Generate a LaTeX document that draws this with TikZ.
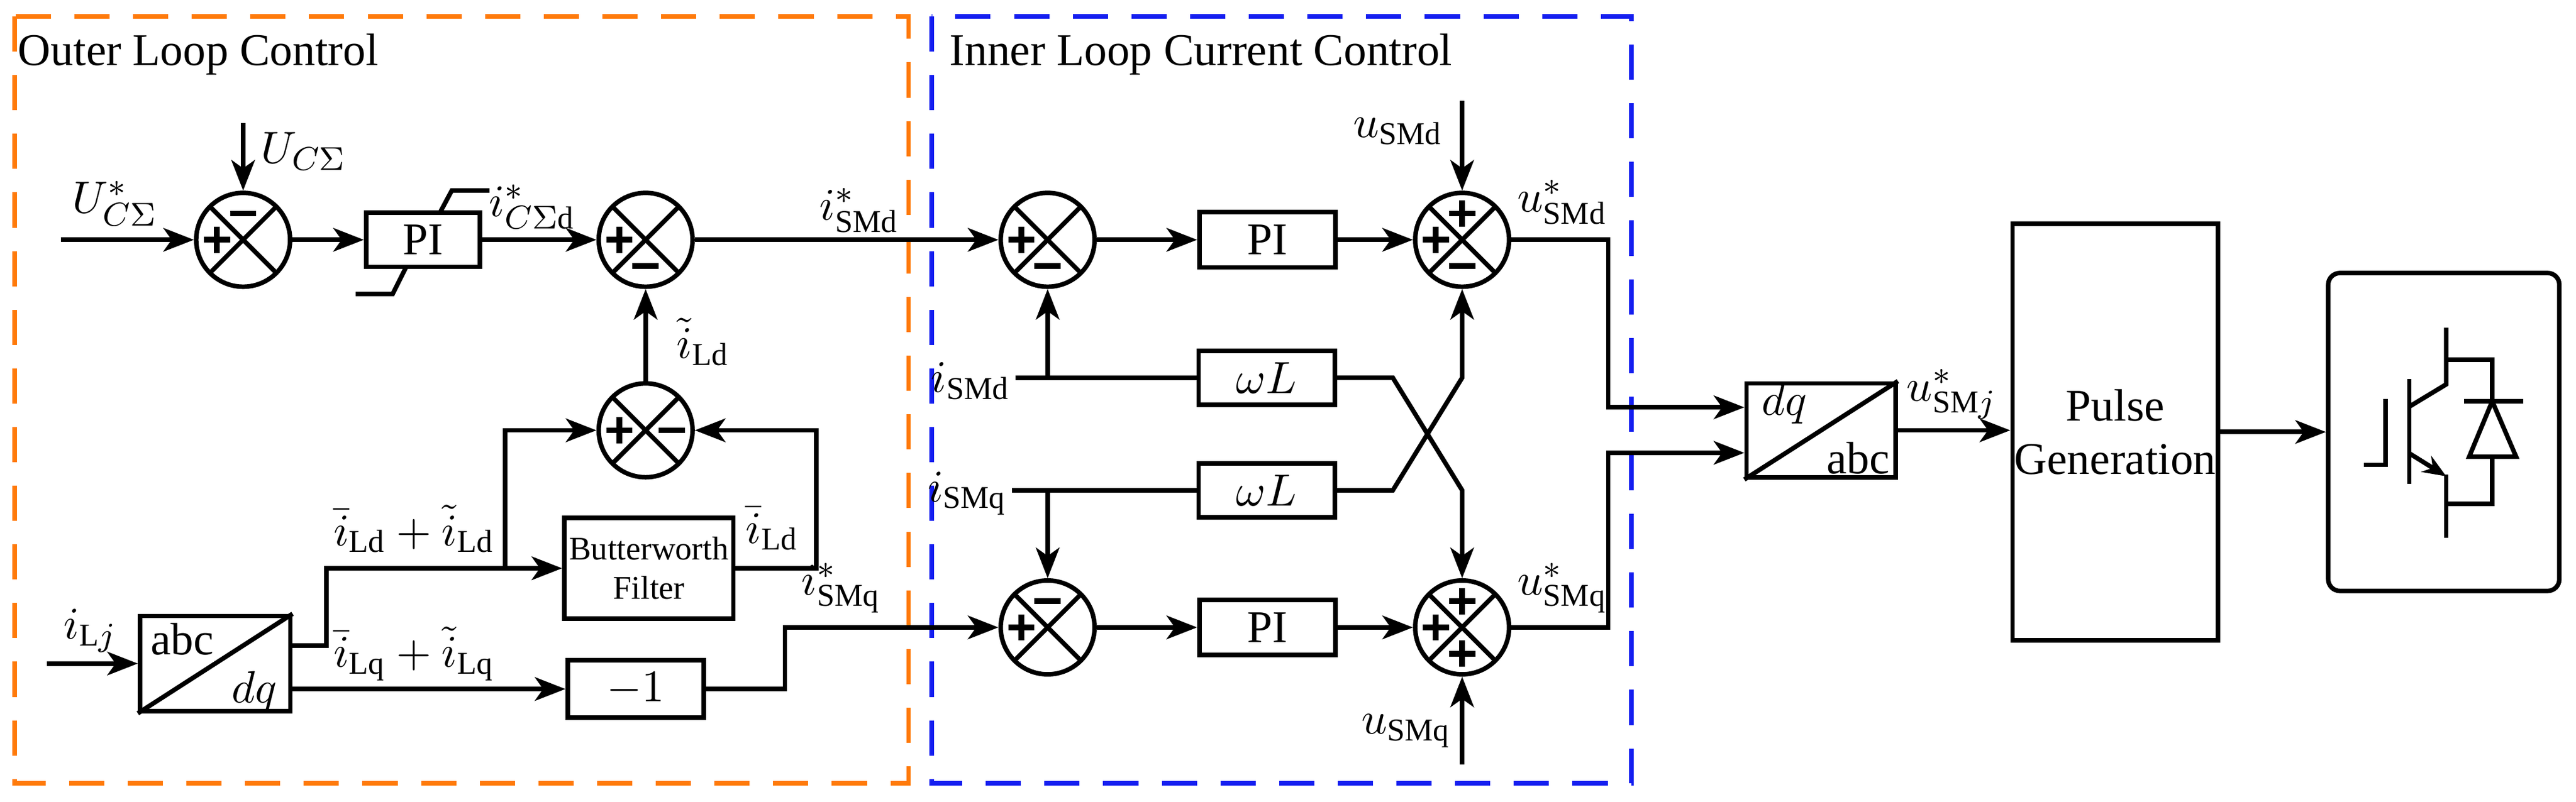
\documentclass[tikz,border=0pt]{standalone}
\usepackage{fontspec}
\setmainfont{Liberation Serif}
\usetikzlibrary{arrows.meta,calc}
\definecolor{boxorange}{RGB}{255,122,10}
\definecolor{boxblue}{RGB}{20,30,240}
\tikzset{
  wire/.style={line width=1.1pt},
  arr/.style={wire, -{Stealth[length=2.6mm,width=2mm,inset=0.7mm]}},
  blk/.style={draw, line width=1.1pt, rectangle, inner sep=0pt, font=\fontsize{11}{13}\selectfont},
  sum/.style={draw, line width=1.1pt, circle, minimum size=8mm, inner sep=0pt,
    path picture={\draw[line width=1.1pt] (path picture bounding box.north west) -- (path picture bounding box.south east)
      (path picture bounding box.south west) -- (path picture bounding box.north east);}},
  sign/.style={line width=1.4pt},
  lbl/.style={inner sep=1pt, font=\fontsize{11}{13}\selectfont},
  frame/.style={line width=1.1pt, dash pattern=on 3mm off 2mm},
}
\newcommand\splus[1]{\draw[sign] ($(#1)+(-8,0)$) -- ++(16,0) ($(#1)+(0,-8)$) -- ++(0,16);}
\newcommand\sminus[1]{\draw[sign] ($(#1)+(-8,0)$) -- ++(16,0);}
\begin{document}
\begin{tikzpicture}[x=0.14mm,y=-0.14mm]
  \useasboundingbox (0,0) rectangle (1568,488);
  % frames
  \draw[frame, boxorange] (9,10) rectangle (553,477);
  \draw[frame, boxblue] (567,10) rectangle (993,477);
  \node[lbl, anchor=west] (tOuter) at (8,33) {Outer Loop Control};
  \node[lbl, anchor=west] (tInner) at (575,33) {Inner Loop Current Control};

  % outer loop
  \node[sum] (s1) at (148,146) {};
  \node[blk, minimum width=9.7mm, minimum height=4.6mm] (pi1) at (257.5,146) {PI};
  \node[sum] (s2) at (393,146) {};
  \node[sum] (s3) at (393,262) {};
  \node[blk, minimum width=14.4mm, minimum height=8.6mm, font=\fontsize{8}{9.5}\selectfont, align=center] (bw) at (395,346) {Butterworth\\Filter};
  \node[blk, minimum width=11.6mm, minimum height=4.9mm] (neg) at (387,419.5) {$-1$};
  \node[blk, minimum width=12.8mm, minimum height=8.1mm] (abc) at (131,404) {};
  \draw[wire] (abc.south west) -- (abc.north east);
  \node[lbl] at (111,389) {abc};
  \node[lbl] at (155,421) {$dq$};
  \splus{$(s1)+(-16,0)$} \sminus{$(s1)+(0,-16)$}
  \splus{$(s2)+(-16,0)$} \sminus{$(s2)+(0,16)$}
  \splus{$(s3)+(-16,0)$} \sminus{$(s3)+(16,0)$}
  % PI limiter
  \draw[wire] (267.5,130) -- (275,116) -- (298,116);
  \draw[wire] (247.5,162) -- (239,179) -- (216.5,179);

  \coordinate (inU) at (37,146);
  \coordinate (inUs) at (148,75);
  \coordinate (inI) at (28.5,404);
  \draw[arr] (inU) -- (s1.west);
  \draw[arr] (inUs) -- (s1.north);
  \draw[arr] (s1.east) -- (pi1.west);
  \draw[arr] (pi1.east) -- (s2.west);
  \draw[arr] (s3.north) -- (s2.south);
  \draw[arr] (inI) -- (abc.west);
  \coordinate (j1) at (307.5,346);
  \draw[arr] ($(abc.east)+(0,-11)$) -- ++(20.5,0) |- (bw.west);
  \draw[arr] (j1) |- (s3.west);
  \draw[arr] (bw.east) -- ++(49,0) |- (s3.east);
  \draw[arr] ($(abc.east)+(0,15.5)$) -- (neg.west);

  \node[lbl] (lUref) at (70,124) {$U^*_{C\Sigma}$};
  \node[lbl] (lUc) at (185,92) {$U_{C\Sigma}$};
  \node[lbl] (lIc) at (324,126) {$i^*_{C\Sigma\mathrm{d}}$};
  \node[lbl] (lIt) at (428,208) {$\tilde{i}_{\mathrm{Ld}}$};
  \node[lbl] (lIdsum) at (252,322) {$\bar{i}_{\mathrm{Ld}}+\tilde{i}_{\mathrm{Ld}}$};
  \node[lbl] (lIqsum) at (252,398) {$\bar{i}_{\mathrm{Lq}}+\tilde{i}_{\mathrm{Lq}}$};
  \node[lbl] (lIbar) at (470,322) {$\bar{i}_{\mathrm{Ld}}$};
  \node[lbl] (lIL) at (55,384) {$i_{\mathrm{L}j}$};
  \node[lbl] (lIdref) at (523,128) {$i^*_{\mathrm{SMd}}$};
  \node[lbl] (lIqref) at (512,358) {$i^*_{\mathrm{SMq}}$};

  % inner loop
  \node[sum] (s4) at (637.7,146) {};
  \node[sum] (s5) at (637.7,382) {};
  \node[blk, minimum width=11.6mm, minimum height=4.7mm] (pi2) at (771.5,146) {PI};
  \node[blk, minimum width=11.6mm, minimum height=4.7mm] (pi3) at (771.5,382) {PI};
  \node[blk, minimum width=11.6mm, minimum height=4.6mm] (wl1) at (771,230) {$\omega L$};
  \node[blk, minimum width=11.6mm, minimum height=4.6mm] (wl2) at (771,298.5) {$\omega L$};
  \node[sum] (s6) at (890,146) {};
  \node[sum] (s7) at (890,382) {};
  \splus{$(s4)+(-16,0)$} \sminus{$(s4)+(0,16)$}
  \splus{$(s5)+(-16,0)$} \sminus{$(s5)+(0,-16)$}
  \splus{$(s6)+(-16,0)$} \splus{$(s6)+(0,-16)$} \sminus{$(s6)+(0,16)$}
  \splus{$(s7)+(-16,0)$} \splus{$(s7)+(0,-16)$} \splus{$(s7)+(0,16)$}

  \draw[arr] (s2.east) -- (s4.west);
  \draw[arr] (neg.east) -- ++(48,0) |- (s5.west);
  \draw[arr] (s4.east) -- (pi2.west);
  \draw[arr] (pi2.east) -- (s6.west);
  \draw[arr] (s5.east) -- (pi3.west);
  \draw[arr] (pi3.east) -- (s7.west);
  \coordinate (iSd) at (618,230);
  \coordinate (iSq) at (616,298.5);
  \draw[wire] (iSd) -- (wl1.west);
  \draw[wire] (iSq) -- (wl2.west);
  \draw[arr] (s4.south |- iSd) -- (s4.south);
  \draw[arr] (s5.north |- iSq) -- (s5.north);
  \draw[arr] (wl1.east) -- ++(34,0) -- (s7.north |- wl2) -- (s7.north);
  \draw[arr] (wl2.east) -- ++(34,0) -- (s6.south |- wl1) -- (s6.south);
  \coordinate (uSd) at (890,61.5);
  \coordinate (uSq) at (890,465.5);
  \draw[arr] (uSd) -- (s6.north);
  \draw[arr] (uSq) -- (s7.south);

  \node[lbl, anchor=east] (lisd) at ($(iSd)+(0,2)$) {$i_{\mathrm{SMd}}$};
  \node[lbl, anchor=east] (lisq) at ($(iSq)+(0,2)$) {$i_{\mathrm{SMq}}$};
  \node[lbl] (lusd) at (851,80) {$u_{\mathrm{SMd}}$};
  \node[lbl] (lusq) at (856,445) {$u_{\mathrm{SMq}}$};
  \node[lbl] (lusdr) at (951,123) {$u^*_{\mathrm{SMd}}$};
  \node[lbl] (lusqr) at (951,358) {$u^*_{\mathrm{SMq}}$};

  % output stage
  \node[blk, minimum width=12.7mm, minimum height=8mm] (dq) at (1108.5,262) {};
  \draw[wire] (dq.south west) -- (dq.north east);
  \node[lbl] at (1086,246) {$dq$};
  \node[lbl] at (1131,279) {abc};
  \draw[arr] (s6.east) -- ++(59,0) |- ($(dq.west)+(0,-14)$);
  \draw[arr] (s7.east) -- ++(59,0) |- ($(dq.west)+(0,13.7)$);
  \node[blk, minimum width=17.5mm, minimum height=35.5mm, align=center] (pulse) at (1287.5,263) {Pulse\\Generation};
  \draw[arr] (dq.east) -- (dq.east -| pulse.west);
  \node[lbl] (lusj) at (1188,240) {$u^*_{\mathrm{SM}j}$};
  \node[blk, rounded corners=1mm, minimum width=19.7mm, minimum height=27.1mm] (igbt) at (1487.5,263) {};
  \draw[arr] (pulse.east) -- (pulse.east -| igbt.west);

  % IGBT with diode
  \draw[wire] (1489,199.5) -- (1489,234) -- (1466.5,247.6);
  \draw[wire] (1466.5,230.7) -- (1466.5,294.6);
  \draw[wire] (1439,283) -- (1452,283) -- (1452,243);
  \draw[wire, -{Stealth[length=2mm,width=1.6mm]}] (1466.5,276) -- (1489,290);
  \draw[wire] (1489,289) -- (1489,327.5);
  \draw[wire] (1489,219) -- (1517,219) -- (1517,244.3);
  \draw[wire] (1500,244.3) -- (1536,244.3);
  \draw[wire] (1517,244.3) -- (1503,278) -- (1531.5,278) -- cycle;
  \draw[wire] (1517,278) -- (1517,306.7) -- (1489,306.7);
\end{tikzpicture}
\end{document}
